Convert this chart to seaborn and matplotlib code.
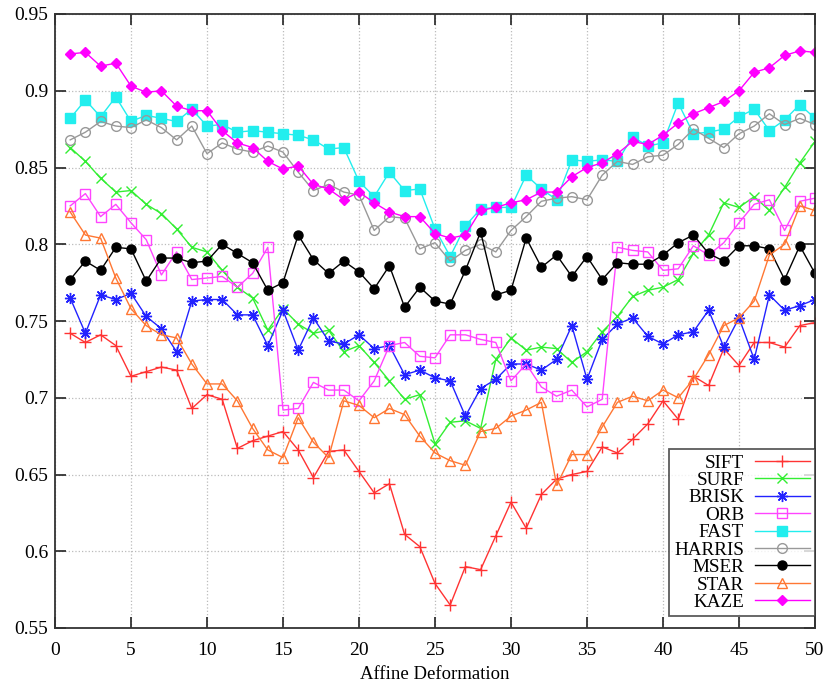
import numpy as np
import pandas as pd
import matplotlib
matplotlib.use('Agg')
import matplotlib.pyplot as plt
import seaborn as sns

plt.rcParams['font.family'] = ['Liberation Serif', 'DejaVu Serif']
plt.rcParams['font.size'] = 13

# -----------------------

deformation = list(range(1, 51))

sift = [0.742, 0.736, 0.741, 0.734, 0.714, 0.717, 0.720, 0.718, 0.693, 0.702,
        0.699, 0.667, 0.672, 0.675, 0.678, 0.666, 0.648, 0.665, 0.666, 0.652,
        0.638, 0.644, 0.611, 0.603, 0.579, 0.565, 0.590, 0.588, 0.610, 0.632,
        0.615, 0.637, 0.647, 0.650, 0.652, 0.668, 0.664, 0.673, 0.683, 0.698,
        0.686, 0.714, 0.708, 0.732, 0.721, 0.736, 0.736, 0.733, 0.747, 0.749]
surf = [0.863, 0.854, 0.843, 0.834, 0.835, 0.826, 0.820, 0.810, 0.798, 0.795,
        0.783, 0.772, 0.765, 0.744, 0.758, 0.748, 0.742, 0.744, 0.730, 0.734,
        0.723, 0.711, 0.699, 0.702, 0.670, 0.684, 0.685, 0.680, 0.725, 0.739,
        0.731, 0.733, 0.732, 0.723, 0.730, 0.743, 0.753, 0.766, 0.770, 0.772,
        0.777, 0.794, 0.806, 0.827, 0.824, 0.831, 0.822, 0.837, 0.853, 0.867]
brisk = [0.765, 0.742, 0.767, 0.764, 0.768, 0.753, 0.745, 0.730, 0.763, 0.764,
         0.764, 0.754, 0.754, 0.734, 0.757, 0.731, 0.752, 0.737, 0.735, 0.741,
         0.732, 0.734, 0.715, 0.718, 0.713, 0.711, 0.688, 0.706, 0.712, 0.722,
         0.722, 0.718, 0.725, 0.747, 0.712, 0.738, 0.748, 0.752, 0.740, 0.735,
         0.741, 0.743, 0.757, 0.733, 0.752, 0.725, 0.767, 0.757, 0.760, 0.764]
orb = [0.825, 0.833, 0.818, 0.826, 0.814, 0.803, 0.780, 0.795, 0.777, 0.778,
       0.779, 0.772, 0.781, 0.798, 0.692, 0.693, 0.710, 0.705, 0.705, 0.698,
       0.711, 0.734, 0.736, 0.727, 0.726, 0.741, 0.741, 0.738, 0.736, 0.711,
       0.722, 0.707, 0.701, 0.705, 0.694, 0.699, 0.798, 0.796, 0.795, 0.783,
       0.784, 0.799, 0.793, 0.801, 0.814, 0.826, 0.829, 0.809, 0.828, 0.830]
fast = [0.882, 0.894, 0.883, 0.896, 0.880, 0.884, 0.882, 0.880, 0.888, 0.877,
        0.878, 0.873, 0.874, 0.873, 0.872, 0.871, 0.868, 0.862, 0.863, 0.841,
        0.831, 0.847, 0.835, 0.836, 0.810, 0.792, 0.812, 0.823, 0.824, 0.824,
        0.845, 0.836, 0.829, 0.855, 0.854, 0.855, 0.854, 0.870, 0.864, 0.866,
        0.892, 0.872, 0.873, 0.875, 0.883, 0.888, 0.874, 0.881, 0.891, 0.882]
harris = [0.868, 0.873, 0.880, 0.877, 0.876, 0.881, 0.876, 0.868, 0.877, 0.859,
          0.866, 0.862, 0.860, 0.864, 0.860, 0.847, 0.835, 0.839, 0.834, 0.832,
          0.809, 0.818, 0.817, 0.797, 0.801, 0.789, 0.796, 0.800, 0.795, 0.809,
          0.818, 0.828, 0.830, 0.831, 0.829, 0.845, 0.854, 0.852, 0.857, 0.858,
          0.865, 0.875, 0.869, 0.863, 0.872, 0.877, 0.885, 0.878, 0.882, 0.878]
mser = [0.777, 0.789, 0.783, 0.798, 0.797, 0.776, 0.791, 0.791, 0.788, 0.789,
        0.800, 0.794, 0.788, 0.770, 0.775, 0.806, 0.790, 0.781, 0.789, 0.782,
        0.771, 0.786, 0.759, 0.772, 0.763, 0.761, 0.783, 0.808, 0.767, 0.770,
        0.804, 0.785, 0.793, 0.779, 0.792, 0.777, 0.788, 0.787, 0.787, 0.793,
        0.801, 0.806, 0.794, 0.789, 0.799, 0.799, 0.797, 0.777, 0.799, 0.781]
star = [0.821, 0.806, 0.804, 0.778, 0.758, 0.747, 0.741, 0.739, 0.722, 0.709,
        0.709, 0.698, 0.680, 0.666, 0.661, 0.687, 0.671, 0.661, 0.698, 0.695,
        0.687, 0.693, 0.689, 0.675, 0.664, 0.659, 0.656, 0.678, 0.680, 0.688,
        0.692, 0.697, 0.643, 0.663, 0.663, 0.681, 0.697, 0.701, 0.698, 0.705,
        0.700, 0.712, 0.728, 0.747, 0.752, 0.763, 0.793, 0.800, 0.825, 0.822]
kaze = [0.924, 0.925, 0.916, 0.918, 0.903, 0.899, 0.900, 0.890, 0.887, 0.887,
        0.874, 0.866, 0.863, 0.854, 0.849, 0.851, 0.839, 0.836, 0.829, 0.834,
        0.827, 0.821, 0.818, 0.818, 0.807, 0.804, 0.806, 0.822, 0.824, 0.827,
        0.829, 0.834, 0.834, 0.844, 0.850, 0.853, 0.859, 0.867, 0.865, 0.871,
        0.879, 0.885, 0.889, 0.893, 0.900, 0.912, 0.915, 0.923, 0.926, 0.925]

detectors = ['SIFT', 'SURF', 'BRISK', 'ORB', 'FAST', 'HARRIS', 'MSER', 'STAR', 'KAZE']
values = [sift, surf, brisk, orb, fast, harris, mser, star, kaze]

# colour, marker, filled?, marker size
styles = {
	'SIFT':   ('#ff3333', '+', True, 8),
	'SURF':   ('#33ee33', 'x', True, 7),
	'BRISK':  ('#2222ff', (8, 2, 0), True, 8),
	'ORB':    ('#ff44ff', 's', False, 7),
	'FAST':   ('#22eeee', 's', True, 7),
	'HARRIS': ('#999999', 'o', False, 7),
	'MSER':   ('#000000', 'o', True, 6.5),
	'STAR':   ('#ff7733', '^', False, 7),
	'KAZE':   ('#ff00ff', 'D', True, 5),
}

df = pd.DataFrame({
	'x': np.tile(deformation, len(detectors)),
	'value': np.concatenate(values),
	'detector': np.repeat(detectors, len(deformation)),
})

# -----------------------

fig = plt.figure(figsize=(8.28, 6.83), dpi=100)
ax = fig.add_axes([55/828, 1 - 628/683, 760/828, 614/683])

for name in detectors:
	c, m, filled, ms = styles[name]
	sub = df[df['detector'] == name]
	sns.lineplot(data=sub, x='x', y='value', ax=ax, label=name, color=c,
		marker=m, markersize=ms, markeredgecolor=c,
		markerfacecolor=c if filled else 'none', markeredgewidth=1.0,
		linewidth=1.0, sort=False)

ax.set_xlim(0, 50)
ax.set_ylim(0.55, 0.95)
ax.set_xticks(range(0, 51, 5))
yt = np.arange(0.55, 0.951, 0.05)
ax.set_yticks(yt)
ax.set_yticklabels(['%g' % round(v, 2) for v in yt])
ax.set_xlabel('Affine Deformation', fontsize=13.5, labelpad=5)
ax.set_ylabel('')

ax.tick_params(direction='in', length=8, width=1.2, top=True, right=True,
	labelsize=14, pad=5, colors='#222222', labelcolor='black')
ax.tick_params(axis='x', pad=10)
for sp in ax.spines.values():
	sp.set_linewidth(1.3)
	sp.set_color('#333333')

ax.grid(True, which='major', axis='both', ls=':', color='#bbbbbb', lw=0.9)

leg = ax.legend(loc='lower right', bbox_to_anchor=(1.0, 0.02), borderaxespad=0,
	markerfirst=False, frameon=True, fancybox=False, fontsize=13.8,
	labelspacing=0.0, handlelength=2.9, handletextpad=0.55, borderpad=0.25)
leg.get_frame().set_edgecolor('#333333')
leg.get_frame().set_linewidth(1.3)

fig.savefig('out.png', dpi=100)
